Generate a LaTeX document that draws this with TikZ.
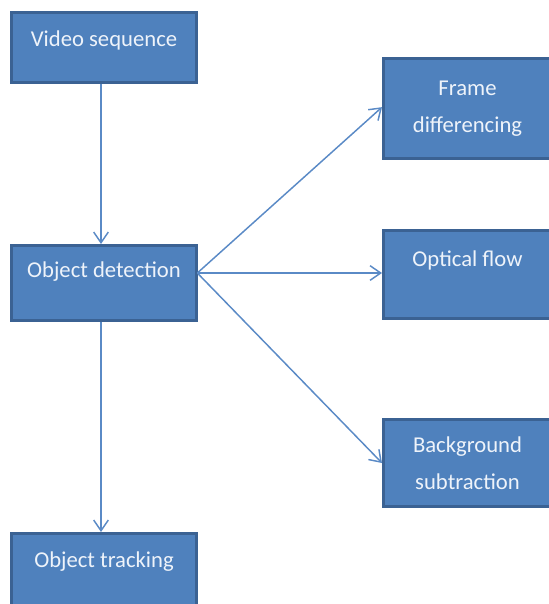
\documentclass[tikz,border=0pt]{standalone}
\usepackage{fontspec}
\setmainfont{Carlito}
\usetikzlibrary{arrows.meta}
\definecolor{boxfill}{HTML}{4F81BD}
\definecolor{boxline}{HTML}{3B6293}
\definecolor{arrowc}{HTML}{5A8AC6}
\definecolor{txt}{HTML}{EEF3FA}
\newcommand{\upby}[2]{\raisebox{#1}[\height][\depth]{#2}}
\tikzset{
  box/.style={draw=boxline, fill=boxfill, line width=2.25pt, inner sep=0pt,
    text=txt, font=\fontsize{17}{27.75}\selectfont, align=center,
    minimum width=138.75pt},
  conn/.style={draw=arrowc, line width=1.1pt,
    -{Straight Barb[length=8pt,width=11pt,line width=1.1pt]}}
}
\begin{document}
\begin{tikzpicture}[x=0.75pt,y=-0.75pt]
\useasboundingbox (0,0) rectangle (549,604);
\node[box, minimum height=52.5pt] (vs) at (104,47.5) {\upby{5.6pt}{Video sequence}};
\node[box, minimum height=56.25pt] (od) at (104,283) {\upby{8.25pt}{Object detection}};
\node[box, minimum height=54pt] (ot) at (104,569.5) {\upby{5.6pt}{Object tracking}};
\node[box, minimum height=75pt, minimum width=126pt] (fd) at (467.5,108.5) {Frame\\differencing};
\node[box, minimum height=66pt, minimum width=126pt] (of) at (467.5,274.5) {\upby{10.9pt}{Optical flow}};
\node[box, minimum height=65.25pt, minimum width=126pt] (bs) at (467.5,463) {Background\\subtraction};
\coordinate (odr) at ([yshift=7.5pt,xshift=-0.5pt]od.east);
\draw[conn] ([xshift=-2.25pt]vs.south) -- ([xshift=-2.25pt]od.north);
\draw[conn] ([xshift=-2.25pt]od.south) -- ([xshift=-2.25pt]ot.north);
\draw[conn] (odr) -- ([yshift=1pt]fd.west);
\draw[conn] (odr) -- (odr -| of.west);
\draw[conn] (odr) -- (bs.west);
\end{tikzpicture}
\end{document}
